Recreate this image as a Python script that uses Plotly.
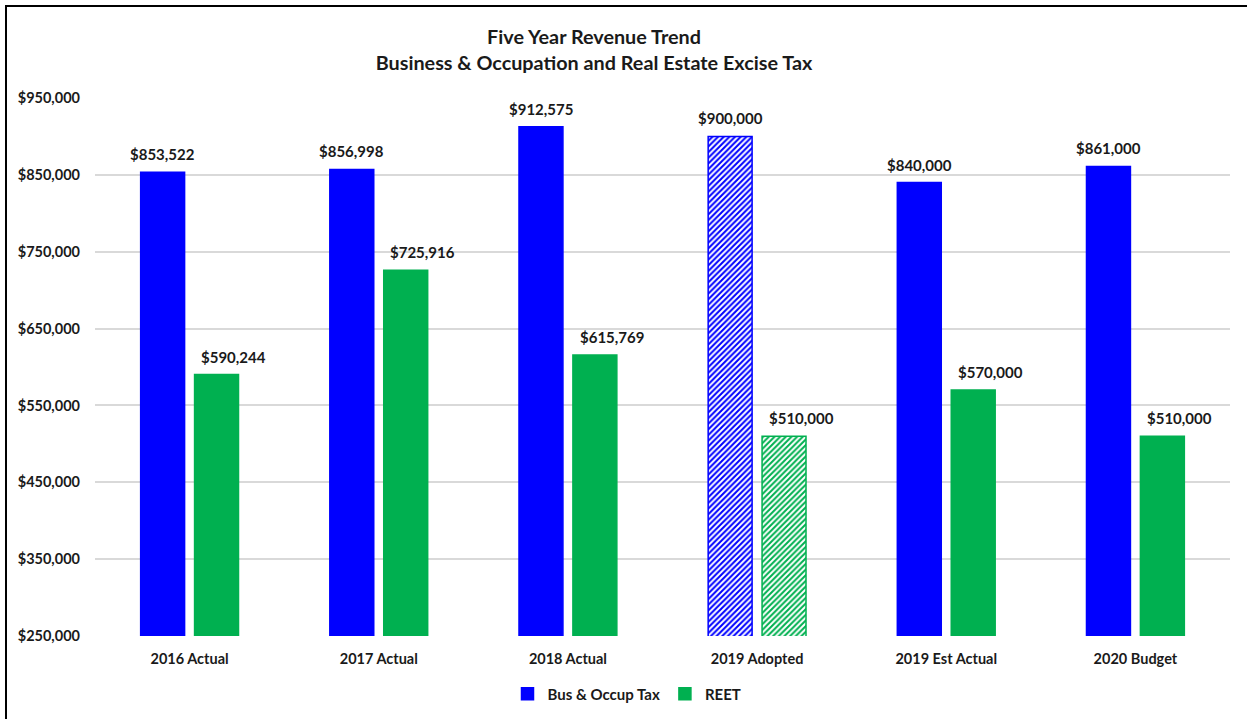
import plotly.graph_objects as go

categories = ["2016 Actual", "2017 Actual", "2018 Actual", "2019 Adopted", "2019 Est Actual", "2020 Budget"]
bo_tax = [853522, 856998, 912575, 900000, 840000, 861000]
reet = [590244, 725916, 615769, 510000, 570000, 510000]
tick_values = [250000, 350000, 450000, 550000, 650000, 750000, 850000, 950000]

BLUE = "#0000FF"
GREEN = "#00B050"
FONT = "Lato"
INK = "#1a1a1a"

# the adopted budget year is drawn with a hatch fill
hatch = ["/" if c == "2019 Adopted" else "" for c in categories]

def bar_trace(name, values, color):
    return go.Bar(
        name=name,
        x=categories,
        y=values,
        marker=dict(
            color=color,
            line=dict(color=color, width=1.5),
            pattern=dict(shape=hatch, fgcolor=color, bgcolor="white",
                         fillmode="replace", size=4, solidity=0.5),
        ),
        cliponaxis=False,
    )

fig = go.Figure([bar_trace("Bus & Occup Tax", bo_tax, BLUE), bar_trace("REET", reet, GREEN)])

W, H = 1247, 719
L, R, T, B = 95, 17, 98, 83
pw, ph = W - L - R, H - T - B

# value labels above each bar (pixel offsets place them over the grouped bars)
labels = []
for values, dx in ((bo_tax, -27), (reet, 44)):
    for cat, v in zip(categories, values):
        labels.append(dict(
            x=cat, y=v, xref="x", yref="y",
            text=f"<b>${v:,.0f}</b>",
            showarrow=False,
            xanchor="center", yanchor="bottom",
            xshift=dx, yshift=7,
            font=dict(family=FONT, size=15, color=INK),
        ))

fig.update_layout(
    width=W,
    height=H,
    margin=dict(l=L, r=R, t=T, b=B, autoexpand=False),
    paper_bgcolor="white",
    plot_bgcolor="white",
    barmode="group",
    bargap=0.43,
    bargroupgap=0.185,
    font=dict(family=FONT, color=INK),
    annotations=labels,
    title=dict(
        text="<b>Five Year Revenue Trend<br>Business & Occupation and Real Estate Excise Tax</b>",
        x=(594 - L) / pw,
        xref="paper",
        xanchor="center",
        y=1 - 44 / H,
        yanchor="middle",
        font=dict(family=FONT, size=19.8, color=INK),
    ),
    legend=dict(
        orientation="h",
        x=(627 - L) / pw,
        xanchor="center",
        y=-(694 - (H - B)) / ph,
        yanchor="middle",
        font=dict(family=FONT, size=15, color=INK, weight="bold"),
        itemwidth=30,
    ),
    xaxis=dict(
        showline=False,
        ticks="",
        automargin=False,
        ticklabelstandoff=12,
        tickfont=dict(family=FONT, size=14.5, color=INK, weight="bold"),
    ),
    yaxis=dict(
        range=[250000, 950000],
        tickvals=tick_values,
        tickformat="$,.0f",
        showgrid=True,
        gridcolor="#d9d9d9",
        gridwidth=1.5,
        zeroline=False,
        ticks="",
        automargin=False,
        ticklabelstandoff=14,
        tickfont=dict(family=FONT, size=14.5, color=INK, weight="bold"),
    ),
    shapes=[
        dict(
            type="rect",
            xref="paper",
            yref="paper",
            x0=(6 - L) / pw,
            x1=(W + 10 - L) / pw,
            y0=-(H + 10 - (H - B)) / ph,
            y1=1 + (T - 6) / ph,
            line=dict(color="black", width=2),
            layer="below",
        )
    ],
)

fig.write_html("out.html")
